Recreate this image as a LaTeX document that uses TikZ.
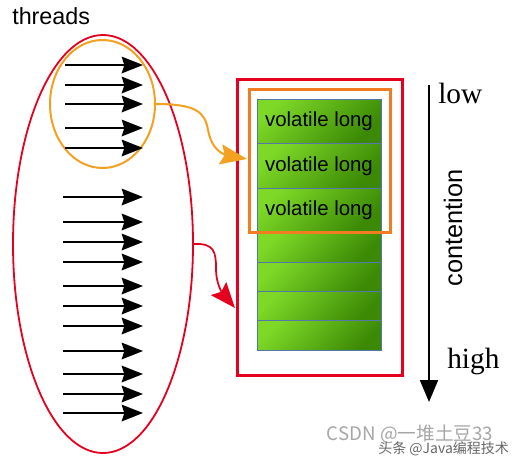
\documentclass[tikz,border=0pt]{standalone}
\usepackage{fontspec}
\setmainfont{Liberation Serif}
\setsansfont{Liberation Sans}
\newfontfamily\cjk{Noto Sans CJK SC}
\usetikzlibrary{arrows.meta,shapes.geometric,bending}
\definecolor{redc}{HTML}{E5001F}
\definecolor{orangel}{HTML}{F4A020}
\definecolor{oranged}{HTML}{F27C22}
\definecolor{greenl}{HTML}{7DD827}
\definecolor{greend}{HTML}{3B8905}
\definecolor{cellb}{HTML}{5577AA}
\begin{document}
\begin{tikzpicture}[x=0.75pt,y=-0.75pt,
  thread/.style={line width=1.3pt,-{Stealth[length=16pt,width=12.5pt,inset=2pt]}},
  cellbase/.style={draw=cellb,line width=0.5pt,top color=greenl,bottom color=greend,shading angle=45,
    minimum width=93pt,inner sep=0pt,outer sep=0pt,anchor=north west,
    font=\sffamily\fontsize{15.3}{18}\selectfont},
  cellbig/.style={cellbase,minimum height=33.4pt},
  cellsmall/.style={cellbase,minimum height=22.2pt}]
\useasboundingbox (0,0) rectangle (513,458);

% threads label
\node[font=\sffamily\fontsize{17.5}{20}\selectfont,anchor=base west,inner sep=0pt] (thr) at (12,24) {threads};

% ellipses
\node[draw=redc,line width=1.35pt,ellipse,minimum width=135pt,minimum height=313.5pt,inner sep=0pt] (redell) at (103,244) {};
\node[draw=orangel,line width=1.5pt,ellipse,minimum width=78.75pt,minimum height=96pt,inner sep=0pt] (oell) at (102.5,104) {};

% thread arrows
\foreach \y [count=\i] in {65,85,104,128,148} {
  \coordinate (ta\i) at (65,\y);
  \coordinate (tb\i) at (143,\y);
  \draw[thread] (ta\i) -- (tb\i);
}
\foreach \y [count=\i] in {197,222,242,262,286,306,326,351,374,394,413} {
  \coordinate (ba\i) at (63,\y);
  \coordinate (bb\i) at (143,\y);
  \draw[thread] (ba\i) -- (bb\i);
}

% cells
\node[cellbig] (c1) at (257,99) {volatile long};
\node[cellbig] (c2) at (257,143.5) {volatile long};
\node[cellbig] (c3) at (257,188) {volatile long};
\node[cellsmall] (c4) at (257,232.5) {};
\node[cellsmall] (c5) at (257,262) {};
\node[cellsmall] (c6) at (257,291) {};
\node[cellsmall] (c7) at (257,320.5) {};

% rectangles
\node[draw=redc,line width=2.25pt,minimum width=123.75pt,minimum height=222pt,inner sep=0pt] (rrect) at (319.5,227) {};
\node[draw=oranged,line width=2.25pt,minimum width=105.75pt,minimum height=107.25pt,inner sep=0pt] (orect) at (319.5,160.5) {};

% connectors
\coordinate (otip) at (247,159);
\draw[orangel,line width=1.5pt,-{Stealth[length=20pt,width=15pt,inset=3pt,flex]}]
  (oell.east) .. controls (196,104) and (205,112) .. (208,130)
  .. controls (212,150) and (222,158) .. (otip);
\coordinate (rtip) at (235,308);
\draw[redc,line width=1.3pt,-{Stealth[length=19pt,width=15pt,inset=3pt,flex]}]
  (redell.east) .. controls (214,243) and (216,252) .. (216,268)
  .. controls (216,282) and (220,295) .. (rtip);

% contention axis
\coordinate (ctop) at (429,85);
\coordinate (cbot) at (429,402);
\draw[line width=1.5pt,-{Triangle[length=16.5pt,width=13.5pt]}] (ctop) -- (cbot);
\node[font=\fontsize{22}{24}\selectfont,anchor=base west,inner sep=0pt] (low) at (438,103) {low};
\node[font=\fontsize{22}{24}\selectfont,anchor=base west,inner sep=0pt] (high) at (447,368) {high};
\node[font=\sffamily\fontsize{19}{22}\selectfont,rotate=90,inner sep=0pt] (cont) at (453,228) {contention};

% watermark
\node[font=\cjk\fontsize{14}{16}\selectfont,text=black!35,inner sep=0pt] (wm1) at (410,434) {CSDN @一堆土豆33};
\node[font=\cjk\fontsize{10.5}{12}\selectfont,text=black!60,inner sep=0pt,anchor=west] (wm2) at (378,449) {头条 @Java编程技术};
\end{tikzpicture}
\end{document}
